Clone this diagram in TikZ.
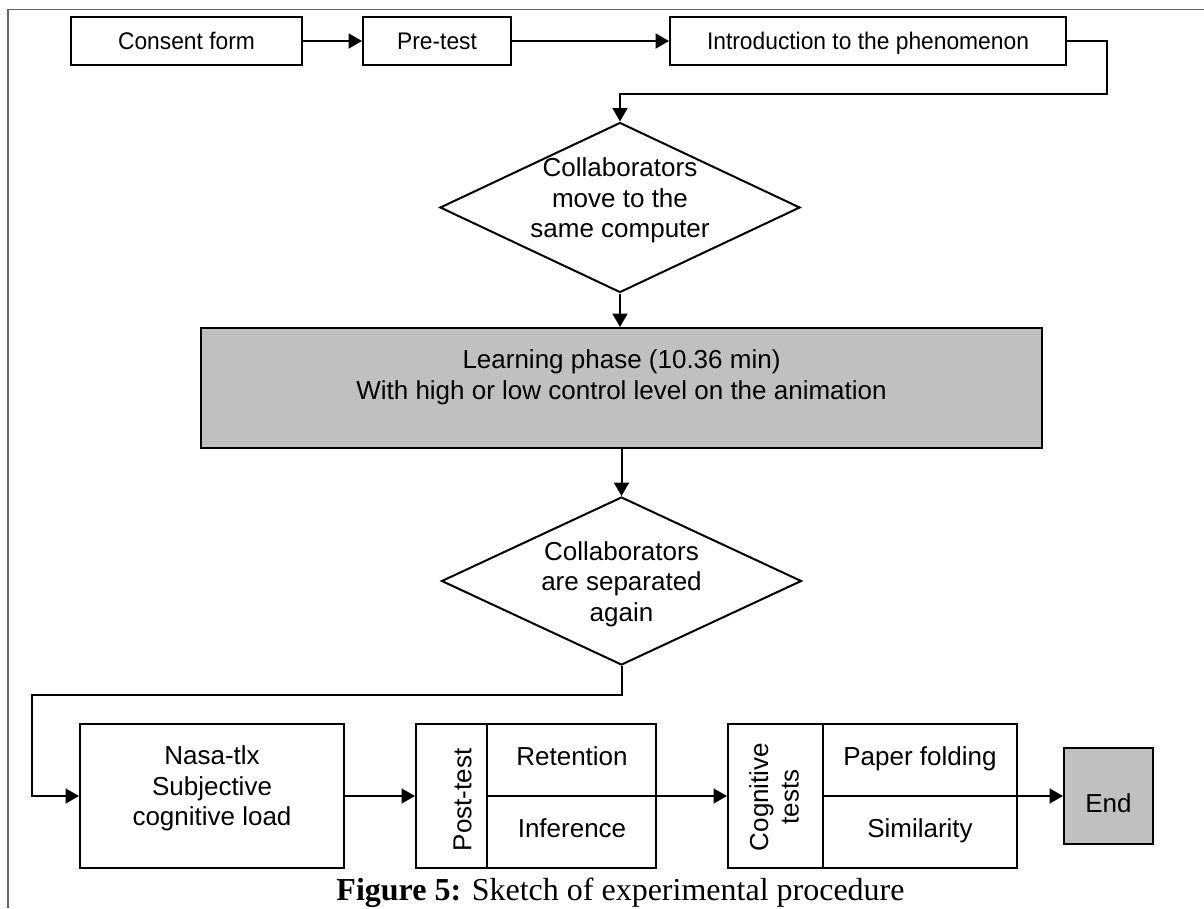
\documentclass[tikz,border=0pt]{standalone}
\usepackage{fontspec}
\setmainfont{Liberation Sans}
\newfontfamily\topfont{Liberation Sans}[FakeStretch=0.95]
\newfontfamily\captionserif{Liberation Serif}
\usetikzlibrary{shapes.geometric,arrows.meta}
\definecolor{boxgray}{HTML}{C0C0C0}
\definecolor{framegray}{rgb}{0.4,0.4,0.4}
\begin{document}
\begin{tikzpicture}[x=1pt,y=-1pt,
  line width=2pt,
  every node/.style={font=\fontsize{26}{30.5}\selectfont},
  box/.style={draw, rectangle, inner sep=0pt},
  single/.style={text height=18.6pt, text depth=0pt},
  topbox/.style={box, minimum height=48pt, font=\topfont\fontsize{24}{28}\selectfont,
    text height=17.2pt, text depth=0pt},
  decision/.style={draw, diamond, inner sep=0pt, minimum width=360pt, minimum height=170pt},
  arr/.style={-{Triangle[length=13.5pt,width=15pt]}},
  filled/.style={fill=boxgray}]
\useasboundingbox (0,0) rectangle (1204,908);
% page frame
\draw[framegray, line width=1.5pt] (8,908) -- (8,9.5) -- (1204,9.5);

% first row
\node[topbox, minimum width=231pt] (consent) at (186.5,41) {Consent form};
\node[topbox, minimum width=148pt] (pretest) at (437,41) {Pre-test};
\node[topbox, minimum width=396pt] (intro) at (868,41) {Introduction to the phenomenon};

% first decision
\node[decision] (move) at (620,207.5) {};
\node[align=center] (movetext) at (620,200.75) {Collaborators\\move to the\\same computer};

% learning phase
\node[box, filled, minimum width=841pt, minimum height=120pt] (learn) at (621.5,388) {};
\node[align=center] (learntext) at (621.5,377.5) {Learning phase (10.36 min)\\With high or low control level on the animation};

% second decision
\node[decision, minimum height=168pt] (sep) at (621.5,581) {};
\node[align=center] (septext) at (621.5,584) {Collaborators\\are separated\\again};

% last row
\node[box, minimum width=264pt, minimum height=144pt] (nasa) at (212,796) {};
\node[align=center] (nasatext) at (212,788.75) {Nasa-tlx\\Subjective\\cognitive load};

\node[box, minimum width=240pt, minimum height=144pt] (post) at (536,796) {};
\draw ([xshift=72pt]post.north west) -- ([xshift=72pt]post.south west);
\draw ([xshift=72pt]post.west) -- (post.east);
\node[rotate=90, single] (posttitle) at (462,800) {Post-test};
\node[single] (retention) at (572,756) {Retention};
\node[single] (inference) at (572,828) {Inference};

\node[box, minimum width=289pt, minimum height=144pt] (cog) at (872.5,796) {};
\draw ([xshift=96pt]cog.north west) -- ([xshift=96pt]cog.south west);
\draw ([xshift=96pt]cog.west) -- (cog.east);
\node[rotate=90, align=center] (cogtitle) at (774,797) {Cognitive\\tests};
\node[single] (paper) at (920,756) {Paper folding};
\node[single] (similarity) at (920,828) {Similarity};

\node[box, filled, minimum width=89pt, minimum height=96pt] (end) at (1108.5,796) {};
\node[single] (endtext) at (1108.5,803) {End};

% connectors
\coordinate (turn1) at (1107,94);
\coordinate (turn2) at (32,695);
\draw[arr] (consent) -- (pretest);
\draw[arr] (pretest) -- (intro);
\draw[arr] (intro.east) -| (turn1) -| (move.north);
\draw[arr] (move.south) -- (move.south |- learn.north);
\draw[arr] (learn.south) -- (sep.north);
\draw[arr] (sep.south) |- (turn2) |- (nasa.west);
\draw[arr] (nasa.east) -- (post.west);
\draw[arr] (post.east) -- (cog.west);
\draw[arr] (cog.east) -- (cog.east -| end.west);

% caption
\node[anchor=base, font=\captionserif\fontsize{32}{38}\selectfont] (caption) at (620.5,900) {\textbf{Figure 5:} Sketch of experimental procedure};
\end{tikzpicture}
\end{document}
